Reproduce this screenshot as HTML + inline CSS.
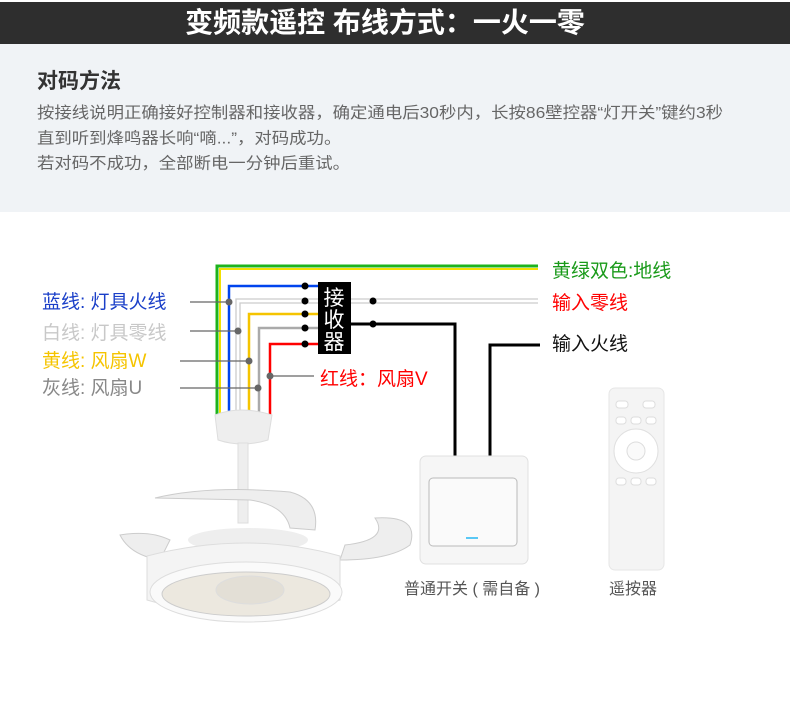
<!DOCTYPE html>
<html><head><meta charset="utf-8"><style>
body{margin:0;width:790px;height:705px;background:#fff;overflow:hidden;font-family:"Liberation Sans","Noto Sans CJK SC",sans-serif;position:relative}
.t{position:absolute;white-space:nowrap}
</style></head><body>
<div style="position:absolute;left:0;top:2px;width:790px;height:42px;background:#2e2e2e"></div>
<div class="t" style="left:-10px;width:790px;top:5px;text-align:center;color:#fff;font-size:28px;font-weight:bold;line-height:36px">变频款遥控 布线方式：一火一零</div>
<div style="position:absolute;left:0;top:44px;width:790px;height:168px;background:#f0f3f6"></div>
<div class="t" style="left:37px;top:68px;font-size:21px;font-weight:bold;color:#333;line-height:28px">对码方法</div>
<div class="t" style="left:37px;top:101px;font-size:17.4px;color:#666;line-height:27.8px;transform:scaleY(0.9);transform-origin:0 0">按接线说明正确接好控制器和接收器，确定通电后30秒内，长按86壁控器“灯开关”键约3秒<br>直到听到烽鸣器长响“嘀...”，对码成功。<br>若对码不成功，全部断电一分钟后重试。</div>
<svg width="790" height="705" style="position:absolute;left:0;top:0" font-family="Liberation Sans,Noto Sans CJK SC,sans-serif">
<polyline points="538,266 217,266 217,415" fill="none" stroke="#1db31d" stroke-width="3"/>
<polyline points="538,269 220,269 220,415" fill="none" stroke="#f2e000" stroke-width="2"/>
<polyline points="318,286 229,286 229,415" fill="none" stroke="#0044ee" stroke-width="2.5"/>
<polyline points="538,299 236,299 236,415" fill="none" stroke="#ccc" stroke-width="1.3"/>
<polyline points="538,303 240,303 240,415" fill="none" stroke="#ccc" stroke-width="1.3"/>
<polyline points="318,314 249,314 249,415" fill="none" stroke="#f5c400" stroke-width="2.5"/>
<polyline points="318,328 259,328 259,415" fill="none" stroke="#aaa" stroke-width="2.5"/>
<polyline points="318,344 270,344 270,415" fill="none" stroke="#f00" stroke-width="2.5"/>
<polyline points="350,324 455,324 455,457" fill="none" stroke="#000" stroke-width="3"/>
<polyline points="540,345 490,345 490,457" fill="none" stroke="#000" stroke-width="3"/>
<rect x="318" y="282" width="33" height="72" fill="#000"/>
<text x="334" y="305" font-size="21" fill="#fff" text-anchor="middle">接</text>
<text x="334" y="327" font-size="21" fill="#fff" text-anchor="middle">收</text>
<text x="334" y="349" font-size="21" fill="#fff" text-anchor="middle">器</text>
<g fill="#000"><circle cx="305" cy="286" r="3.5"/><circle cx="305" cy="301" r="3.5"/><circle cx="305" cy="314" r="3.5"/><circle cx="305" cy="328" r="3.5"/><circle cx="305" cy="344" r="3.5"/><circle cx="373" cy="301" r="3.5"/><circle cx="373" cy="324" r="3.5"/></g>
<g stroke="#666" stroke-width="1.3"><line x1="190" y1="302" x2="229" y2="302"/><line x1="190" y1="331" x2="238" y2="331"/><line x1="180" y1="361" x2="249" y2="361"/><line x1="180" y1="388" x2="258" y2="388"/><line x1="270" y1="376" x2="314" y2="376"/></g>
<g fill="#666"><circle cx="229" cy="302" r="3.5"/><circle cx="238" cy="331" r="3.5"/><circle cx="249" cy="361" r="3.5"/><circle cx="258" cy="388" r="3.5"/><circle cx="270" cy="376" r="3.5"/></g>
<g font-size="19"><text x="42" y="308" fill="#1a3fc8">蓝线: 灯具火线</text><text x="42" y="339" fill="#c8c8c8">白线: 灯具零线</text><text x="42" y="367" fill="#f5c400">黄线: 风扇W</text><text x="42" y="394" fill="#888">灰线: 风扇U</text><text x="320" y="385" fill="#f00">红线：风扇V</text>
<text x="552" y="277" fill="#1a9a1a">黄绿双色:地线</text><text x="552" y="309" fill="#f00">输入零线</text><text x="552" y="350" fill="#111">输入火线</text></g>
<path d="M215,415 Q240,405 272,415 L268,440 Q242,448 218,440 Z" fill="#eee" stroke="#ddd"/>
<rect x="238" y="443" width="10" height="80" fill="#eee" stroke="#ddd"/>
<path d="M155,498 Q210,485 290,492 Q320,500 315,530 L290,528 Q285,505 250,500 Z" fill="#eee" stroke="#ccc"/>
<path d="M375,518 Q420,515 410,545 Q390,560 340,560 L345,545 Q390,540 375,518 Z" fill="#eee" stroke="#ccc"/>
<path d="M120,535 Q150,530 170,540 L160,560 Q130,555 120,535 Z" fill="#eee" stroke="#ccc"/>
<ellipse cx="248" cy="540" rx="60" ry="12" fill="#eee"/>
<path d="M147,556 Q248,530 340,556 L340,600 Q248,630 147,600 Z" fill="#f4f4f4" stroke="#ddd"/>
<ellipse cx="246" cy="592" rx="96" ry="30" fill="#fafafa" stroke="#ddd"/>
<ellipse cx="246" cy="594" rx="84" ry="22" fill="#ece8df" stroke="#ccc"/>
<ellipse cx="250" cy="590" rx="34" ry="14" fill="#e3dfd6" stroke="#ddd"/>
<rect x="420" y="456" width="108" height="108" rx="6" fill="#f6f6f6" stroke="#e0e0e0"/>
<rect x="429" y="478" width="88" height="68" rx="4" fill="#fafafa" stroke="#bbb"/>
<rect x="466" y="537" width="12" height="2" fill="#5ac8f5"/>
<text x="404" y="594" font-size="16" fill="#555">普通开关 ( 需自备 )</text>
<rect x="609" y="388" width="55" height="182" rx="6" fill="#f4f4f4" stroke="#e6e6e6"/>
<circle cx="636" cy="451" r="22" fill="#fff" stroke="#e0e0e0"/>
<circle cx="636" cy="451" r="9" fill="#fafafa" stroke="#ddd"/>
<g fill="#fff" stroke="#ddd"><rect x="616" y="401" width="12" height="7" rx="3"/><rect x="643" y="401" width="12" height="7" rx="3"/><rect x="616" y="417" width="10" height="7" rx="3"/><rect x="631" y="417" width="10" height="7" rx="3"/><rect x="646" y="417" width="10" height="7" rx="3"/><rect x="616" y="478" width="10" height="7" rx="3"/><rect x="631" y="478" width="10" height="7" rx="3"/><rect x="646" y="478" width="10" height="7" rx="3"/></g>
<text x="609" y="594" font-size="16" fill="#555">遥按器</text>
</svg>
</body></html>
